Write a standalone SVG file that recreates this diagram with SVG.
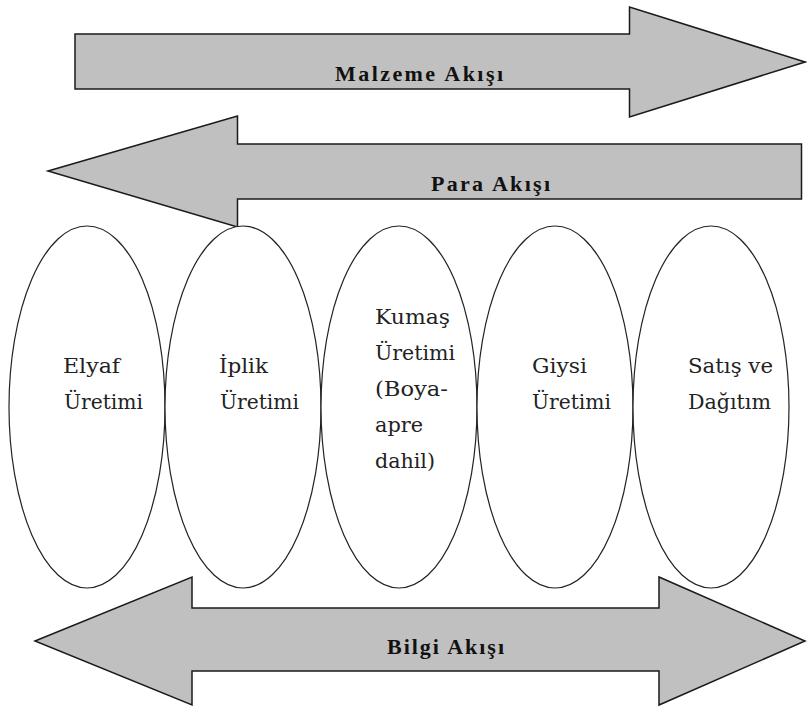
<svg xmlns="http://www.w3.org/2000/svg" width="807" height="711" viewBox="0 0 807 711">
<style>
.arrow{fill:#c0c0c0;stroke:#1a1a1a;stroke-width:1.5;stroke-linejoin:miter}
.node{fill:#ffffff;stroke:#222;stroke-width:1.2}
.lbl{font-family:"Liberation Serif","Times New Roman",serif;font-weight:bold;font-size:22px;fill:#111}
.t{font-family:"DejaVu Serif","Liberation Serif",serif;font-size:20px;fill:#222}
</style>
<rect width="807" height="711" fill="#ffffff"/>
<g id="connectors">
  <g id="malzeme">
    <polygon class="arrow" points="75,34 629.5,34 629.5,7 805,62 629.5,117 629.5,89 75,89"/>
    <text class="lbl" x="335" y="81" textLength="168" lengthAdjust="spacing">Malzeme Akışı</text>
  </g>
  <g id="para">
    <polygon class="arrow" points="48,171 237.5,116 237.5,144 801.5,144 801.5,199 237.5,199 237.5,227"/>
    <text class="lbl" x="431" y="191" textLength="119" lengthAdjust="spacing">Para Akışı</text>
  </g>
  <g id="bilgi">
    <polygon class="arrow" points="35,641 192,577 192,608 659,608 659,577 805,641 659,705 659,671 192,671 192,705"/>
    <text class="lbl" x="387" y="654" textLength="117" lengthAdjust="spacing">Bilgi Akışı</text>
  </g>
</g>
<g id="elyaf">
  <ellipse class="node" cx="87" cy="407" rx="78" ry="181"/>
  <text class="t" x="63" y="373" textLength="57" lengthAdjust="spacingAndGlyphs">Elyaf</text>
  <text class="t" x="64" y="409" textLength="79" lengthAdjust="spacingAndGlyphs">Üretimi</text>
</g>
<g id="iplik">
  <ellipse class="node" cx="243" cy="407" rx="78" ry="181"/>
  <text class="t" x="219" y="373" textLength="49" lengthAdjust="spacingAndGlyphs">İplik</text>
  <text class="t" x="220" y="409" textLength="79" lengthAdjust="spacingAndGlyphs">Üretimi</text>
</g>
<g id="kumas">
  <ellipse class="node" cx="399" cy="407" rx="78" ry="181"/>
  <text class="t" x="375" y="324" textLength="75" lengthAdjust="spacingAndGlyphs">Kumaş</text>
  <text class="t" x="375" y="360" textLength="80" lengthAdjust="spacingAndGlyphs">Üretimi</text>
  <text class="t" x="375" y="396" textLength="73" lengthAdjust="spacingAndGlyphs">(Boya-</text>
  <text class="t" x="375" y="432" textLength="48" lengthAdjust="spacingAndGlyphs">apre</text>
  <text class="t" x="375" y="468" textLength="60" lengthAdjust="spacingAndGlyphs">dahil)</text>
</g>
<g id="giysi">
  <ellipse class="node" cx="555" cy="407" rx="78" ry="181"/>
  <text class="t" x="532" y="373" textLength="55" lengthAdjust="spacingAndGlyphs">Giysi</text>
  <text class="t" x="532" y="409" textLength="79" lengthAdjust="spacingAndGlyphs">Üretimi</text>
</g>
<g id="satis">
  <ellipse class="node" cx="711" cy="407" rx="78" ry="181"/>
  <text class="t" x="688" y="373" textLength="85" lengthAdjust="spacingAndGlyphs">Satış ve</text>
  <text class="t" x="688" y="409" textLength="83" lengthAdjust="spacingAndGlyphs">Dağıtım</text>
</g>
</svg>
